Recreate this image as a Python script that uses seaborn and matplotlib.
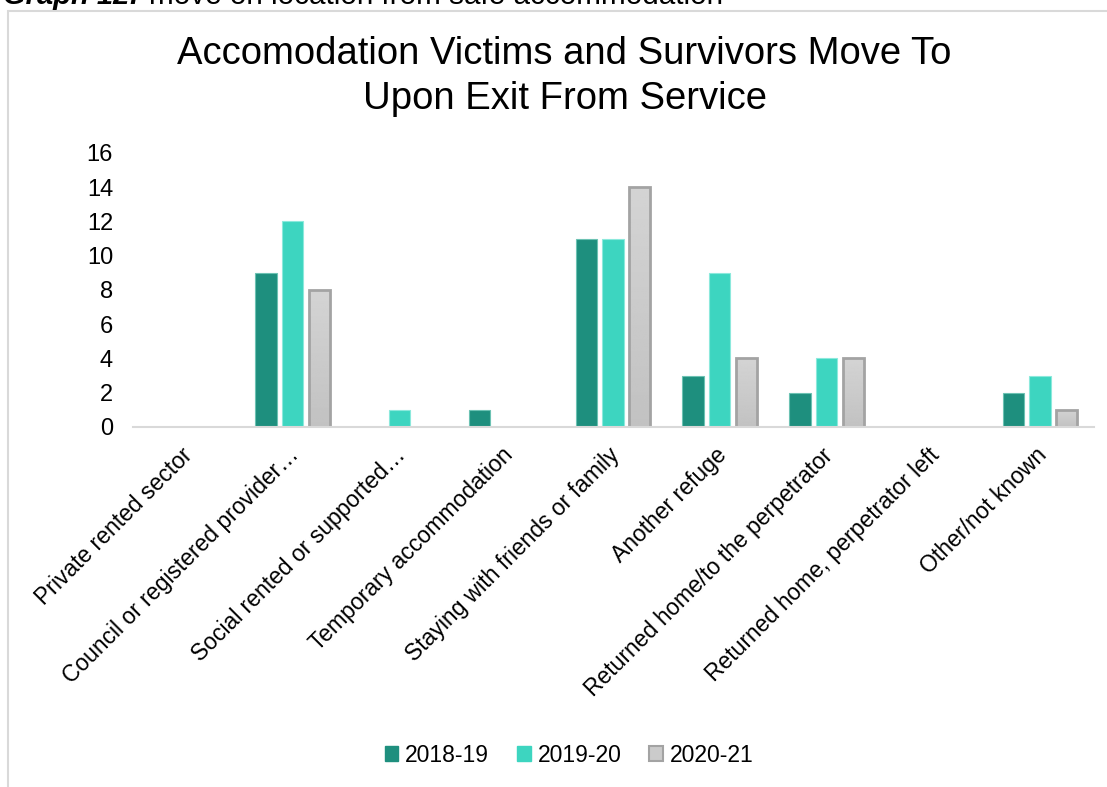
import numpy as np
import pandas as pd
import matplotlib
matplotlib.use("Agg")
import matplotlib.pyplot as plt
import matplotlib.transforms as mtransforms
from matplotlib.patches import Rectangle
import seaborn as sns

categories = [
    "Private rented sector",
    "Council or registered provider\u2026",
    "Social rented or supported\u2026",
    "Temporary accommodation",
    "Staying with friends or family",
    "Another refuge",
    "Returned home/to the perpetrator",
    "Returned home, perpetrator left",
    "Other/not known",
]
years = ["2018-19", "2019-20", "2020-21"]
values_2018_19 = [0, 9, 0, 1, 11, 3, 2, 0, 2]
values_2019_20 = [0, 12, 1, 0, 11, 9, 4, 0, 3]
values_2020_21 = [0, 8, 0, 0, 14, 4, 4, 0, 1]
y_ticks = [0, 2, 4, 6, 8, 10, 12, 14, 16]

df = pd.DataFrame({
    "category": categories * 3,
    "year": [years[0]] * 9 + [years[1]] * 9 + [years[2]] * 9,
    "value": values_2018_19 + values_2019_20 + values_2020_21,
})

sns.set_style("white")
plt.rcParams["font.family"] = ["Liberation Sans", "DejaVu Sans"]
plt.rcParams["text.color"] = "black"
plt.rcParams["xtick.color"] = "black"
plt.rcParams["ytick.color"] = "black"

W, H = 1107, 787
fig = plt.figure(figsize=(W / 100, H / 100), dpi=100)

# outer chart frame
fig.patches.append(Rectangle((8 / W, -0.01), 1.2, (H - 11) / H + 0.01,
                             transform=fig.transFigure, fill=False,
                             edgecolor="#d9d9d9", linewidth=1.5))

# caption above the chart frame
cap = fig.text(3 / W, 1 - 4 / H, "Graph 12:", fontsize=21, fontweight="bold",
               fontstyle="italic", va="baseline", ha="left")
fig.canvas.draw()
ext = cap.get_window_extent()
fig.text((ext.x1 + 10) / W, 1 - 4 / H, "move on location from safe accommodation",
         fontsize=21.3, va="baseline", ha="left")

ax = fig.add_axes([132.5 / W, 1 - 427 / H, (1093.5 - 132.5) / W, (427 - 153) / H])

palette = {"2018-19": "#1e8f7e", "2019-20": "#3dd5c0", "2020-21": "#cbcbcb"}
sns.barplot(data=df, x="category", y="value", hue="year", hue_order=years,
            order=categories, palette=palette, width=0.75, ax=ax,
            saturation=1, legend=True)

edge = {"2018-19": "#6cc2b3", "2019-20": "#8ce9dc", "2020-21": "#a3a3a3"}
bar_w = 0.2
grad = np.linspace(0.83, 0.76, 100).reshape(-1, 1)
for container, yr in zip(ax.containers, years):
    for patch in container.patches:
        h = patch.get_height()
        cx = patch.get_x() + patch.get_width() / 2
        patch.set_x(cx - bar_w / 2)
        patch.set_width(bar_w)
        if h == 0:
            patch.set_visible(False)
            continue
        if yr == "2020-21":
            patch.set_edgecolor(edge[yr])
            patch.set_linewidth(2.0)
            im = ax.imshow(grad, cmap="gray", vmin=0, vmax=1, aspect="auto",
                           extent=(cx - bar_w / 2, cx + bar_w / 2, 0, h),
                           zorder=patch.get_zorder() - 0.1, origin="upper")
            im.set_clip_path(patch)
            patch.set_facecolor("none")
        else:
            patch.set_edgecolor(edge[yr])
            patch.set_linewidth(0.8)

ax.set_xlim(-0.5, len(categories) - 0.5)
ax.set_ylim(0, 16)
ax.set_yticks(y_ticks)
ax.set_yticklabels([str(t) for t in y_ticks], fontsize=17)
ax.tick_params(axis="y", length=0, pad=14)
ax.tick_params(axis="x", length=0, pad=12)
ax.set_xticks(range(len(categories)))
ax.set_xticklabels(categories, rotation=45, ha="right", rotation_mode="anchor",
                   fontsize=16.5)
shift = mtransforms.ScaledTranslation(-5 / 100, 0, fig.dpi_scale_trans)
for lbl in ax.get_xticklabels():
    lbl.set_transform(lbl.get_transform() + shift)
ax.set_xlabel("")
ax.set_ylabel("")
for side in ["left", "right", "top"]:
    ax.spines[side].set_visible(False)
ax.spines["bottom"].set_color("#d9d9d9")
ax.spines["bottom"].set_linewidth(1.5)

# legend
legend_handles = [
    Rectangle((0, 0), 1, 1, facecolor="#1e8f7e", edgecolor="#1e8f7e"),
    Rectangle((0, 0), 1, 1, facecolor="#3dd5c0", edgecolor="#3dd5c0"),
    Rectangle((0, 0), 1, 1, facecolor="#cbcbcb", edgecolor="#a3a3a3", linewidth=1.5),
]
ax.legend_.remove()
fig.legend(legend_handles, years, loc="center", bbox_to_anchor=(0.514, 1 - 755 / H),
           ncol=3, frameon=False, fontsize=16.5, handlelength=0.6, handleheight=0.6,
           handletextpad=0.3, columnspacing=1.2)

fig.text(0.51, 1 - 54 / H, "Accomodation Victims and Survivors Move To",
         fontsize=27.5, ha="center", va="center")
fig.text(0.51, 1 - 99 / H, "Upon Exit From Service",
         fontsize=27.5, ha="center", va="center")

fig.savefig("out.png", dpi=100)
